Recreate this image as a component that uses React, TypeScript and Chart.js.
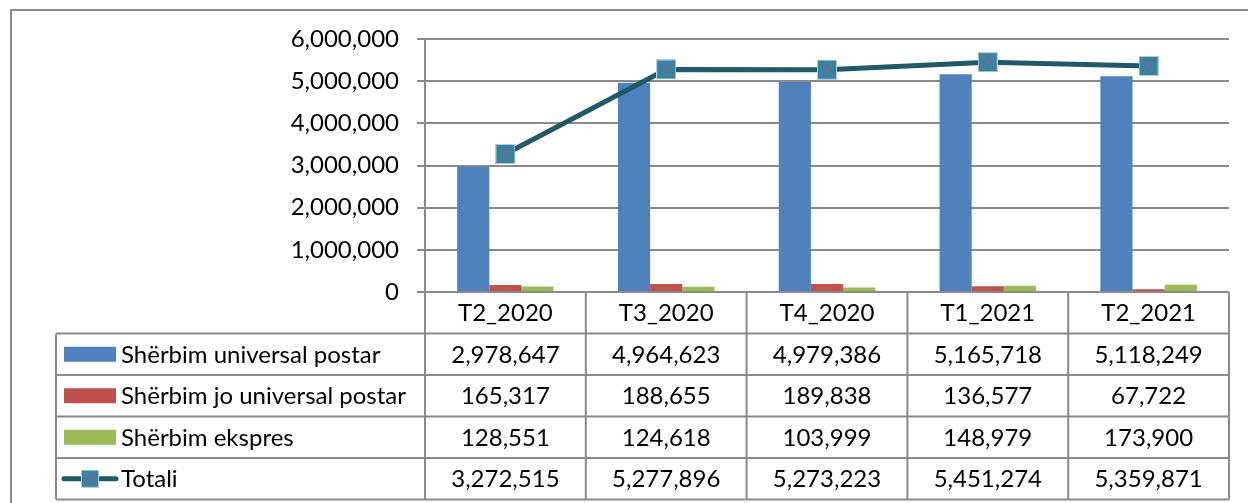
import React, { useEffect, useRef } from "react";
import { Chart, registerables } from "chart.js";

Chart.register(...registerables);

const categories = ["T2_2020", "T3_2020", "T4_2020", "T1_2021", "T2_2021"];
const universal = [2978647, 4964623, 4979386, 5165718, 5118249];
const joUniversal = [165317, 188655, 189838, 136577, 67722];
const ekspres = [128551, 124618, 103999, 148979, 173900];
const totali = [3272515, 5277896, 5273223, 5451274, 5359871];
const seriesNames = [
  "Shërbim universal postar",
  "Shërbim jo universal postar",
  "Shërbim ekspres",
  "Totali",
];
const yMin = 0;
const yMax = 6000000;
const yStep = 1000000;

const BLUE = "#4F81BD";
const RED = "#C0504D";
const GREEN = "#9BBB59";
const LINE = "#215968";
const MARK = "#31859C";
const XMARK = "#8064A2";
const GRID = "#8a8a8a";
const FONT = "Lato";
const FSIZE = 24;

function makeMarker(size: number): HTMLCanvasElement {
  const m = document.createElement("canvas");
  m.width = size;
  m.height = size;
  const c = m.getContext("2d")!;
  c.fillStyle = MARK;
  c.fillRect(0, 0, size, size);
  c.strokeStyle = "#a9d3df";
  c.lineWidth = 1;
  c.strokeRect(0.5, 0.5, size - 1, size - 1);
  c.strokeStyle = XMARK;
  c.lineWidth = 1.5;
  c.beginPath();
  c.moveTo(2, 2);
  c.lineTo(size - 2, size - 2);
  c.moveTo(size - 2, 2);
  c.lineTo(2, size - 2);
  c.stroke();
  return m;
}

const fmt = (n: number) => n.toLocaleString("en-US");

export default function App() {
  const ref = useRef<HTMLCanvasElement | null>(null);

  useEffect(() => {
    if (!ref.current) return;
    const marker = makeMarker(20);
    const legendMarker = makeMarker(18);
    const rowValues = [universal, joUniversal, ekspres, totali];
    const colors = [BLUE, RED, GREEN];

    const framePlugin = {
      id: "frame",
      beforeDraw(chart: any) {
        const ctx = chart.ctx;
        ctx.save();
        ctx.fillStyle = "#fff";
        ctx.fillRect(0, 0, chart.width, chart.height);
        ctx.strokeStyle = GRID;
        ctx.lineWidth = 2;
        ctx.beginPath();
        ctx.moveTo(11, chart.height);
        ctx.lineTo(11, 10);
        ctx.lineTo(chart.width, 10);
        ctx.stroke();
        ctx.restore();
      },
    };

    const tablePlugin = {
      id: "dataTable",
      afterDraw(chart: any) {
        const ctx = chart.ctx;
        const area = chart.chartArea;
        const xs = chart.scales.x;
        const top = area.bottom;
        const rowH = 41.5;
        const colW = (area.right - area.left) / categories.length;
        const legLeft = 56;
        ctx.save();
        ctx.strokeStyle = GRID;
        ctx.lineWidth = 2;
        ctx.beginPath();
        for (let r = 1; r <= 5; r++) {
          const y = top + r * rowH;
          ctx.moveTo(legLeft, y);
          ctx.lineTo(area.right, y);
        }
        ctx.moveTo(legLeft, top + rowH);
        ctx.lineTo(legLeft, top + 5 * rowH);
        for (let i = 0; i <= categories.length; i++) {
          const x = area.left + i * colW;
          ctx.moveTo(x, top);
          ctx.lineTo(x, top + 5 * rowH);
        }
        ctx.stroke();

        ctx.fillStyle = "#000";
        ctx.font = `${FSIZE}px ${FONT}`;
        ctx.textBaseline = "middle";
        ctx.textAlign = "center";
        categories.forEach((c, i) => {
          ctx.fillText(c, xs.getPixelForValue(i), top + rowH / 2 + 1);
        });
        rowValues.forEach((vals, r) => {
          const cy = top + (r + 1) * rowH + rowH / 2 + 1;
          vals.forEach((v, i) => {
            ctx.fillText(fmt(v), xs.getPixelForValue(i), cy);
          });
        });

        // legend cells
        ctx.textAlign = "left";
        seriesNames.forEach((name, r) => {
          const cy = top + (r + 1) * rowH + rowH / 2;
          if (r < 3) {
            ctx.fillStyle = colors[r];
            ctx.fillRect(64, cy - 7.5, 52, 15);
          } else {
            ctx.strokeStyle = LINE;
            ctx.lineWidth = 5;
            ctx.lineCap = "round";
            ctx.beginPath();
            ctx.moveTo(64, cy);
            ctx.lineTo(116, cy);
            ctx.stroke();
            ctx.drawImage(legendMarker, 90 - 9, cy - 9);
          }
          ctx.fillStyle = "#000";
          ctx.fillText(name, 121, cy + 1);
        });
        ctx.restore();
      },
    };

    const chart = new Chart(ref.current, {
      type: "bar",
      data: {
        labels: categories,
        datasets: [
          {
            type: "line",
            label: seriesNames[3],
            data: totali,
            borderColor: LINE,
            backgroundColor: MARK,
            borderWidth: 5,
            pointStyle: marker as any,
            pointRadius: 10,
            tension: 0,
            order: 0,
          } as any,
          {
            label: seriesNames[0],
            data: universal,
            backgroundColor: BLUE,
            order: 1,
          },
          {
            label: seriesNames[1],
            data: joUniversal,
            backgroundColor: RED,
            order: 1,
          },
          {
            label: seriesNames[2],
            data: ekspres,
            backgroundColor: GREEN,
            order: 1,
          },
        ],
      },
      options: {
        animation: false,
        responsive: false,
        devicePixelRatio: 1,
        layout: { padding: { left: 0, top: 39, right: 19, bottom: 211 } },
        datasets: { bar: { categoryPercentage: 0.6, barPercentage: 1 } } as any,
        plugins: { legend: { display: false }, tooltip: { enabled: false } },
        scales: {
          x: { display: false, offset: true },
          y: {
            min: yMin,
            max: yMax,
            afterFit: (s: any) => {
              s.width = 425;
            },
            border: { display: true, color: GRID, width: 2 },
            grid: { color: GRID, lineWidth: 2, tickLength: 8, drawTicks: true },
            ticks: {
              stepSize: yStep,
              padding: 18,
              color: "#000",
              font: { family: FONT, size: FSIZE },
              callback: (v: any) => fmt(Number(v)),
            },
          },
        },
      },
      plugins: [framePlugin, tablePlugin],
    });
    return () => chart.destroy();
  }, []);

  return (
    <div style={{ position: "fixed", left: 0, top: 0, width: 1248, height: 503, background: "#fff" }}>
      <canvas ref={ref} width={1248} height={503} style={{ width: 1248, height: 503, display: "block" }} />
    </div>
  );
}
